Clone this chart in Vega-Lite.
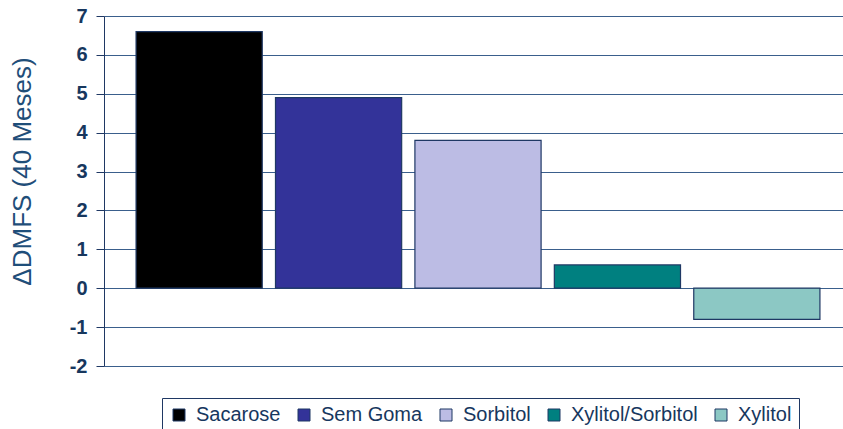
{
  "$schema": "https://vega.github.io/schema/vega-lite/v6.json",
  "autosize": {"type": "none"},
  "padding": {"left": 104, "top": 16, "right": 0, "bottom": 63},
  "width": 748,
  "height": 350,
  "background": "white",
  "data": {"values": [
    {"grupo": "Sacarose", "dmfs": 6.6},
    {"grupo": "Sem Goma", "dmfs": 4.9},
    {"grupo": "Sorbitol", "dmfs": 3.8},
    {"grupo": "Xylitol/Sorbitol", "dmfs": 0.6},
    {"grupo": "Xylitol", "dmfs": -0.8}
  ]},
  "mark": {"type": "bar", "stroke": "#1f3864", "strokeWidth": 1.2},
  "encoding": {
    "x": {"field": "grupo", "type": "nominal", "sort": null, "axis": null,
          "scale": {"paddingInner": 0.095, "paddingOuter": 0.23}},
    "y": {"field": "dmfs", "type": "quantitative",
          "scale": {"domain": [-2, 7], "nice": false, "zero": false},
          "axis": {"values": [-2, -1, 0, 1, 2, 3, 4, 5, 6, 7], "title": "ΔDMFS (40 Meses)",
                   "labelExpr": "replace(datum.label, '−', '-')",
                   "titleFont": "Liberation Sans", "titleFontSize": 26, "titleFontWeight": "normal",
                   "titleColor": "#1f4e79", "titlePadding": 34, "titleY": 155,
                   "labelFont": "Liberation Sans", "labelFontSize": 20, "labelFontWeight": "bold",
                   "labelColor": "#17375e", "labelPadding": 9,
                   "tickSize": 8, "tickColor": "#1f3864", "domainColor": "#1f3864",
                   "gridColor": "#3a5f8c", "gridWidth": 1, "grid": true}},
    "color": {"field": "grupo", "type": "nominal", "sort": null,
              "scale": {"domain": ["Sacarose", "Sem Goma", "Sorbitol", "Xylitol/Sorbitol", "Xylitol"],
                        "range": ["#000000", "#333399", "#bcbce4", "#008080", "#8cc8c4"]},
              "legend": {"orient": "none", "legendX": 58, "legendY": 382, "direction": "horizontal", "title": null,
                         "padding": 7, "strokeColor": "#1f3864",
                         "symbolType": "square", "symbolSize": 144, "symbolStrokeColor": "#1f3864", "symbolStrokeWidth": 1,
                         "labelFont": "Liberation Sans", "labelFontSize": 20, "labelColor": "#17375e",
                         "labelOffset": 7, "columnPadding": 13, "symbolOffset": 0, "labelLimit": 300}}
  },
  "config": {"view": {"stroke": null}}
}
